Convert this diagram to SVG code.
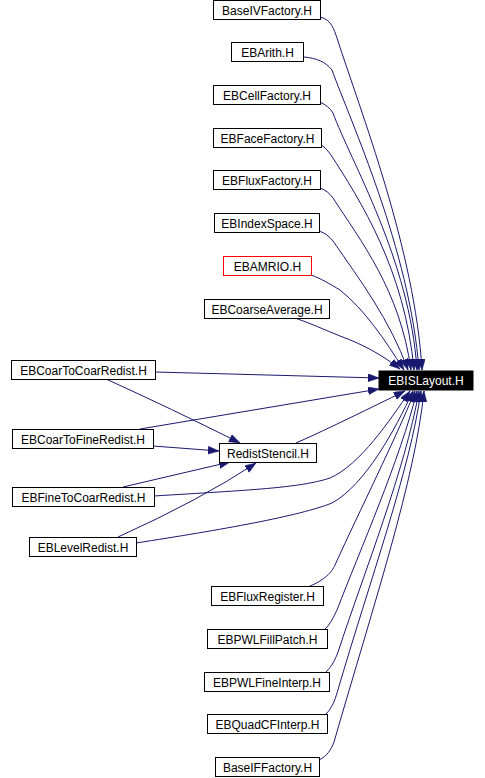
<svg xmlns="http://www.w3.org/2000/svg" width="485" height="778" viewBox="0 0 485 778">
<style>
.n rect{fill:#fff;stroke:#000;stroke-width:1}
.n text{font-family:"Liberation Sans",Arial,sans-serif;font-size:12px;fill:#000;text-anchor:middle}
#n_ebamrio rect{stroke:#ff0000}
#n_ebislayout rect{fill:#000}
#n_ebislayout text{fill:#fff}
.e path{fill:none;stroke:#191970;stroke-width:1;marker-end:url(#ah)}
</style>
<defs>
<marker id="ah" markerUnits="userSpaceOnUse" markerWidth="12" markerHeight="9" refX="11" refY="4" orient="auto">
<path d="M0,0 L11,4 L0,8 z" fill="#191970" stroke="#191970" stroke-width="0.5"/>
</marker>
</defs>
<rect width="485" height="778" fill="#fff"/>
<g id="edges" class="e">
<path d="M320,17 C332,20 334,30 337,38 C360,110 415,250 422,370"/>
<path d="M304,57 C316,58 326,62 332,70 C350,120 410,250 419,370"/>
<path d="M320,102 C326,105 330,108 333,113 C350,160 410,260 417,370"/>
<path d="M321,145 C325,147 328,151 331,155 C360,200 405,270 414,370"/>
<path d="M320,188 C326,190 330,194 333,198 C360,240 400,290 411,370"/>
<path d="M319,231 C325,233 329,236 333,241 C360,280 390,320 408,370"/>
<path d="M311,275 C320,278 330,284 340,290 C365,310 385,340 404,370"/>
<path d="M295,318 C310,323 325,330 340,336 C365,345 385,357 400,369"/>
<path d="M155,372 L379,378"/>
<path d="M106,379 Q170,408 240,443"/>
<path d="M140,429 L379,389"/>
<path d="M153,446 L219,451"/>
<path d="M123,487 L230,462"/>
<path d="M118,537 Q200,500 256,463"/>
<path d="M296,443 C330,428 370,408 405,391"/>
<path d="M154,496 C250,490 300,488 330,478 C360,465 390,420 410,391"/>
<path d="M136,543 C220,530 300,516 332,503 C365,485 395,430 413,391"/>
<path d="M308,587 C325,580 332,572 335,565 C360,510 395,440 415,391"/>
<path d="M324,630 C330,625 333,618 337,610 C360,550 400,460 417,391"/>
<path d="M326,672 C332,666 335,660 338,652 C365,570 405,470 419,391"/>
<path d="M326,714 C332,708 335,700 337,693 C370,580 410,470 421,391"/>
<path d="M319,760 C327,756 331,750 334,742 C375,600 415,480 424,391"/>
</g>
<g id="n_baseivfactory" class="n"><rect x="213.5" y="0.5" width="107" height="19"/><text x="267" y="15">BaseIVFactory.H</text></g>
<g id="n_ebarith" class="n"><rect x="231.5" y="42.5" width="72" height="19"/><text x="267.5" y="57">EBArith.H</text></g>
<g id="n_ebcellfactory" class="n"><rect x="213.5" y="85.5" width="107" height="19"/><text x="267" y="100">EBCellFactory.H</text></g>
<g id="n_ebfacefactory" class="n"><rect x="213.5" y="128.5" width="108" height="19"/><text x="267.5" y="143">EBFaceFactory.H</text></g>
<g id="n_ebfluxfactory" class="n"><rect x="213.5" y="170.5" width="107" height="19"/><text x="267" y="185">EBFluxFactory.H</text></g>
<g id="n_ebindexspace" class="n"><rect x="214.5" y="213.5" width="105" height="19"/><text x="267" y="228">EBIndexSpace.H</text></g>
<g id="n_ebamrio" class="n"><rect x="223.5" y="256.5" width="88" height="19"/><text x="267.5" y="271">EBAMRIO.H</text></g>
<g id="n_ebcoarseaverage" class="n"><rect x="204.5" y="299.5" width="125" height="19"/><text x="267" y="314">EBCoarseAverage.H</text></g>
<g id="n_ebislayout" class="n"><rect x="379" y="371" width="94" height="19"/><text x="426" y="385">EBISLayout.H</text></g>
<g id="n_ebcoartocoarredist" class="n"><rect x="11.5" y="360.5" width="144" height="19"/><text x="83.5" y="375">EBCoarToCoarRedist.H</text></g>
<g id="n_ebcoartofineredist" class="n"><rect x="12.5" y="429.5" width="141" height="19"/><text x="83" y="444">EBCoarToFineRedist.H</text></g>
<g id="n_rediststencil" class="n"><rect x="219.5" y="443.5" width="97" height="19"/><text x="268" y="458">RedistStencil.H</text></g>
<g id="n_ebfinetocoarredist" class="n"><rect x="12.5" y="487.5" width="142" height="19"/><text x="83.5" y="502">EBFineToCoarRedist.H</text></g>
<g id="n_eblevelredist" class="n"><rect x="29.5" y="537.5" width="107" height="19"/><text x="83" y="552">EBLevelRedist.H</text></g>
<g id="n_ebfluxregister" class="n"><rect x="211.5" y="586.5" width="112" height="19"/><text x="267.5" y="601">EBFluxRegister.H</text></g>
<g id="n_ebpwlfillpatch" class="n"><rect x="207.5" y="629.5" width="120" height="19"/><text x="267.5" y="644">EBPWLFillPatch.H</text></g>
<g id="n_ebpwlfineinterp" class="n"><rect x="204.5" y="672.5" width="125" height="19"/><text x="267" y="687">EBPWLFineInterp.H</text></g>
<g id="n_ebquadcfinterp" class="n"><rect x="207.5" y="714.5" width="120" height="19"/><text x="267.5" y="729">EBQuadCFInterp.H</text></g>
<g id="n_baseiffactory" class="n"><rect x="215.5" y="757.5" width="104" height="19"/><text x="267.5" y="772">BaseIFFactory.H</text></g>
</svg>
